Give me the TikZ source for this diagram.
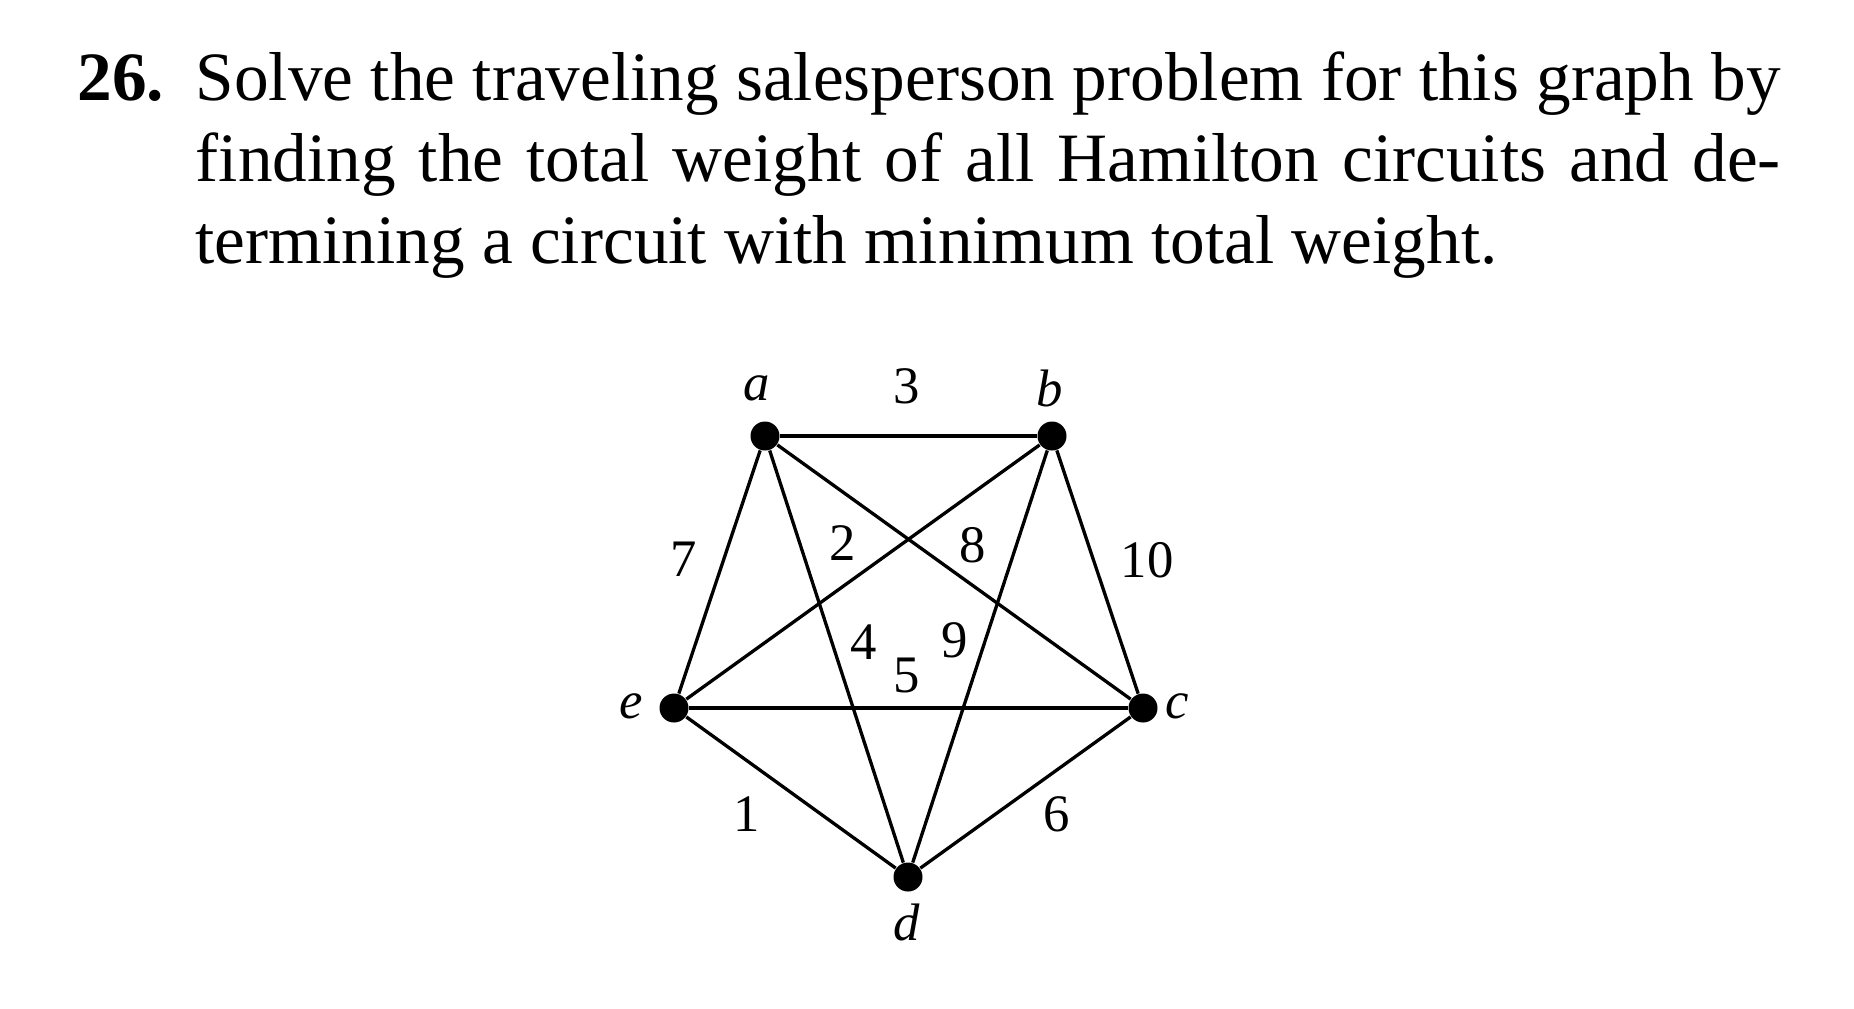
\documentclass[tikz,border=0pt]{standalone}
\usepackage{fontspec}
\setmainfont{Liberation Serif}
\usetikzlibrary{positioning}

\begin{document}
\begin{tikzpicture}
    [
        x=0.1mm, y=-0.1mm,
        vertex_node/.style={circle, fill=black, inner sep=0pt, minimum size=2.9mm},
        name_label/.style={font=\fontsize{15}{18}\selectfont\itshape, inner sep=0pt},
        weight_label/.style={font=\fontsize{15}{18}\selectfont, inner sep=0pt},
        problem_text/.style={font=\fontsize{19.7}{23.2}\selectfont, anchor=base west, inner sep=0pt, text width=170.3mm, align=justify},
        edge_line/.style={line width=0.33mm, color=black},
    ]
        \useasboundingbox (0,0) rectangle (1854,1008);
        % problem text
        \node[problem_text] (problem) at (77,100) {\noindent\spaceskip=0.25em plus 0.3em minus 0.12em
            \hangindent=11.8mm \hangafter=1
            \makebox[11.8mm][l]{\bfseries 26.}Solve the traveling salesperson problem for this graph by\linebreak
            finding the total weight of all Hamilton circuits and de-\linebreak
            termining a circuit with minimum total weight.\par};
        % vertices
        \node[vertex_node] (a) at (765,436) {};
        \node[vertex_node] (b) at (1052,436) {};
        \node[vertex_node] (c) at (1143,708) {};
        \node[vertex_node] (d) at (908,877) {};
        \node[vertex_node] (e) at (674,708) {};
        \node[name_label] (a_name) at (757,388) {a};
        \node[name_label] (b_name) at (1050,388) {b};
        \node[name_label] (c_name) at (1177,706) {c};
        \node[name_label] (d_name) at (907,922) {d};
        \node[name_label] (e_name) at (631,706) {e};
        % edges
        \draw[edge_line] (a) -- (b) ;
        \draw[edge_line] (b) -- (c) ;
        \draw[edge_line] (c) -- (d) ;
        \draw[edge_line] (d) -- (e) ;
        \draw[edge_line] (e) -- (a) ;
        \draw[edge_line] (a) -- (c) ;
        \draw[edge_line] (a) -- (d) ;
        \draw[edge_line] (b) -- (d) ;
        \draw[edge_line] (b) -- (e) ;
        \draw[edge_line] (e) -- (c) ;
        % weights
        \node[weight_label] (w_ab) at (907,386) {3};
        \node[weight_label] (w_bc) at (1147,560) {10};
        \node[weight_label] (w_cd) at (1057,814) {6};
        \node[weight_label] (w_de) at (747,814) {1};
        \node[weight_label] (w_ea) at (684,559) {7};
        \node[weight_label] (w_ad) at (843,543) {2};
        \node[weight_label] (w_ac) at (973,545) {8};
        \node[weight_label] (w_be) at (864,642) {4};
        \node[weight_label] (w_bd) at (955,640) {9};
        \node[weight_label] (w_ec) at (907,675) {5};
    \end{tikzpicture}
\end{document}
